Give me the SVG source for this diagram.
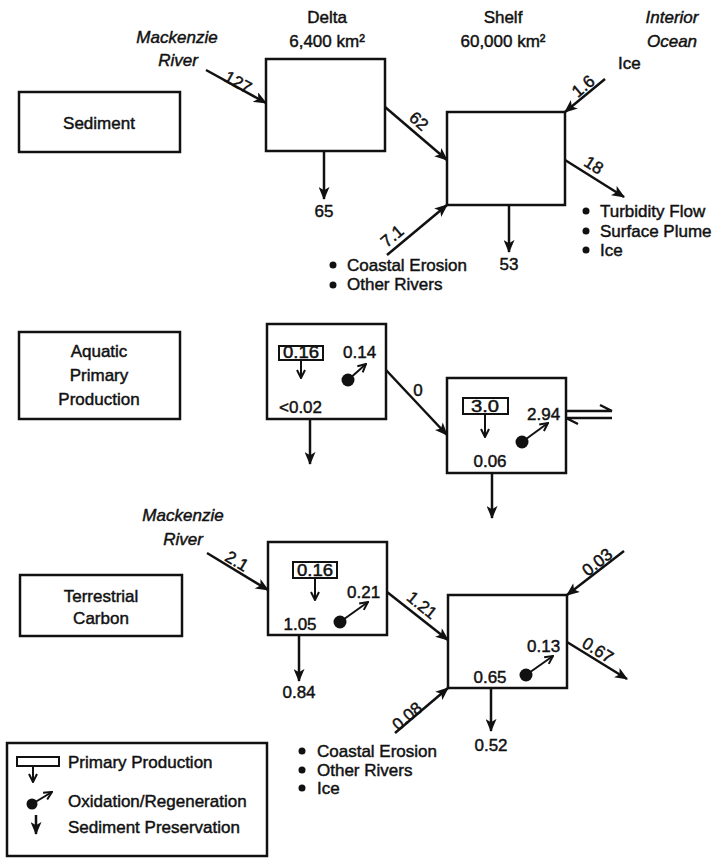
<svg xmlns="http://www.w3.org/2000/svg" width="719" height="859" viewBox="0 0 719 859">
<defs>
<style>
text{font-family:"Liberation Sans",Arial,sans-serif;font-size:17px;fill:#111;stroke:#111;stroke-width:0.45}
.it{font-style:italic}
.m{text-anchor:middle}
.sm{font-size:16px}
.box{fill:#fff;stroke:#111;stroke-width:2.5}
.pp{fill:#fff;stroke:#111;stroke-width:2}
.ln{fill:none;stroke:#111;stroke-width:2.5}
.thin{fill:none;stroke:#111;stroke-width:2}
.dot{fill:#111}
</style>
<marker id="ah" viewBox="0 0 12 10" refX="11" refY="5" markerWidth="14" markerHeight="11" markerUnits="userSpaceOnUse" orient="auto"><path d="M0,0 L12,5 L0,10 L3,5 z" fill="#111"/></marker>
<marker id="oh" viewBox="0 0 10 10" refX="9" refY="5" markerWidth="10" markerHeight="10" markerUnits="userSpaceOnUse" orient="auto"><path d="M1,1 L9,5 L1,9" fill="none" stroke="#111" stroke-width="2"/></marker>
</defs>
<rect width="719" height="859" fill="#fff"/>

<!-- headers -->
<g id="headers">
<text class="m" x="327" y="23">Delta</text>
<text class="m" x="327" y="47">6,400 km²</text>
<text class="m" x="503" y="23">Shelf</text>
<text class="m" x="503" y="47">60,000 km²</text>
<text class="m it" x="672" y="23">Interior</text>
<text class="m it" x="672" y="47">Ocean</text>
<text x="618" y="69">Ice</text>
<text class="m it" x="177" y="43">Mackenzie</text>
<text class="m it" x="178" y="66">River</text>
</g>

<!-- Row 1: Sediment -->
<g id="label-sediment"><rect class="box" x="19" y="92" width="161" height="60"/><text class="m" x="99" y="129">Sediment</text></g>
<g id="sed-delta"><rect class="box" x="266" y="59" width="119" height="92"/></g>
<g id="sed-shelf"><rect class="box" x="447" y="112" width="118" height="93"/></g>
<g id="sed-texts">
<text class="m" x="324" y="217">65</text>
<text class="m" x="509" y="270">53</text>
<circle class="dot" cx="586" cy="211" r="3.5"/><text x="600" y="217">Turbidity Flow</text>
<circle class="dot" cx="586" cy="231" r="3.5"/><text x="600" y="237">Surface Plume</text>
<circle class="dot" cx="586" cy="250" r="3.5"/><text x="600" y="256">Ice</text>
<circle class="dot" cx="333" cy="265" r="3.5"/><text x="347" y="271">Coastal Erosion</text>
<circle class="dot" cx="333" cy="285" r="3.5"/><text x="347" y="290">Other Rivers</text>
</g>

<!-- Row 2: Aquatic -->
<g id="label-aquatic"><rect class="box" x="19" y="332" width="161" height="87"/>
<text class="m" x="99" y="357">Aquatic</text><text class="m" x="99" y="381">Primary</text><text class="m" x="99" y="405">Production</text></g>
<g id="aq-delta"><rect class="box" x="267" y="324" width="119" height="95"/>
<rect class="pp" x="279" y="346" width="44" height="14"/><text class="m sm" x="301" y="358" textLength="36" lengthAdjust="spacingAndGlyphs">0.16</text>
<line class="thin" x1="301" y1="360" x2="301" y2="378" marker-end="url(#oh)"/>
<text x="343" y="358">0.14</text>
<circle class="dot" cx="348" cy="380" r="6.5"/><line class="thin" x1="348" y1="380" x2="366" y2="364" marker-end="url(#oh)"/>
<text x="279" y="413">&lt;0.02</text></g>
<g id="aq-shelf"><rect class="box" x="447" y="378" width="119" height="95"/>
<rect class="pp" x="463" y="398" width="45" height="16"/><text class="m sm" x="485" y="412" textLength="28" lengthAdjust="spacingAndGlyphs">3.0</text>
<line class="thin" x1="485" y1="414" x2="485" y2="437" marker-end="url(#oh)"/>
<text x="527" y="420">2.94</text>
<circle class="dot" cx="522" cy="442" r="6.5"/><line class="thin" x1="522" y1="442" x2="548" y2="423" marker-end="url(#oh)"/>
<text class="m" x="490" y="467">0.06</text></g>

<!-- Row 3: Terrestrial -->
<g id="label-terrestrial"><rect class="box" x="20" y="575" width="162" height="61"/>
<text class="m" x="101" y="602">Terrestrial</text><text class="m" x="101" y="624">Carbon</text></g>
<g id="terr-river"><text class="m it" x="183" y="521">Mackenzie</text><text class="m it" x="183" y="545">River</text></g>
<g id="terr-delta"><rect class="box" x="268" y="542" width="119" height="93"/>
<rect class="pp" x="293" y="562" width="44" height="16"/><text class="m sm" x="315" y="576" textLength="36" lengthAdjust="spacingAndGlyphs">0.16</text>
<line class="thin" x1="315" y1="578" x2="315" y2="600" marker-end="url(#oh)"/>
<text x="347" y="598">0.21</text>
<circle class="dot" cx="340" cy="622" r="6.5"/><line class="thin" x1="340" y1="622" x2="368" y2="602" marker-end="url(#oh)"/>
<text class="m" x="300" y="630">1.05</text></g>
<g id="terr-shelf"><rect class="box" x="448" y="595" width="119" height="93"/>
<text x="527" y="652">0.13</text>
<circle class="dot" cx="526" cy="675" r="6.5"/><line class="thin" x1="526" y1="675" x2="553" y2="656" marker-end="url(#oh)"/>
<text class="m" x="490" y="683">0.65</text></g>
<g id="terr-texts">
<text class="m" x="299" y="698">0.84</text>
<text class="m" x="491" y="751">0.52</text>
<circle class="dot" cx="302" cy="751" r="3.5"/><text x="317" y="757">Coastal Erosion</text>
<circle class="dot" cx="302" cy="770" r="3.5"/><text x="317" y="776">Other Rivers</text>
<circle class="dot" cx="302" cy="788" r="3.5"/><text x="317" y="794">Ice</text>
</g>

<!-- connectors -->
<g id="connectors">
<line class="ln" x1="206" y1="70" x2="266" y2="103" marker-end="url(#ah)"/>
<line class="ln" x1="385" y1="107" x2="447" y2="160" marker-end="url(#ah)"/>
<line class="ln" x1="605" y1="79" x2="565" y2="112" marker-end="url(#ah)"/>
<line class="ln" x1="565" y1="160" x2="624" y2="197" marker-end="url(#ah)"/>
<line class="ln" x1="387" y1="255" x2="447" y2="205" marker-end="url(#ah)"/>
<line class="ln" x1="324" y1="151" x2="324" y2="199" marker-end="url(#ah)"/>
<line class="ln" x1="509" y1="205" x2="509" y2="252" marker-end="url(#ah)"/>
<line class="ln" x1="386" y1="370" x2="447" y2="435" marker-end="url(#ah)"/>
<line class="ln" x1="310" y1="419" x2="310" y2="464" marker-end="url(#ah)"/>
<line class="ln" x1="492" y1="473" x2="492" y2="518" marker-end="url(#ah)"/>
<path class="ln" d="M566,411 H612 M612,411 L600,405 M566,418 H612 M566,418 L578,424"/>
<line class="ln" x1="207" y1="553" x2="268" y2="590" marker-end="url(#ah)"/>
<line class="ln" x1="387" y1="592" x2="448" y2="640" marker-end="url(#ah)"/>
<line class="ln" x1="624" y1="551" x2="567" y2="595" marker-end="url(#ah)"/>
<line class="ln" x1="567" y1="642" x2="627" y2="679" marker-end="url(#ah)"/>
<line class="ln" x1="395" y1="733" x2="448" y2="688" marker-end="url(#ah)"/>
<line class="ln" x1="299" y1="635" x2="299" y2="681" marker-end="url(#ah)"/>
<line class="ln" x1="491" y1="688" x2="491" y2="731" marker-end="url(#ah)"/>
<text class="m" transform="translate(238,82) rotate(29)" dy="0.35em">127</text>
<text class="m" transform="translate(419,121) rotate(41)" dy="0.35em">62</text>
<text class="m" transform="translate(583,86) rotate(-40)" dy="0.35em">1.6</text>
<text class="m" transform="translate(594,165) rotate(32)" dy="0.35em">18</text>
<text class="m" transform="translate(392,236) rotate(-40)" dy="0.35em">7.1</text>
<text class="m" x="418" y="396">0</text>
<text class="m" transform="translate(237,561) rotate(31)" dy="0.35em">2.1</text>
<text class="m" transform="translate(422,605) rotate(39)" dy="0.35em">1.21</text>
<text class="m" transform="translate(597,562) rotate(-38)" dy="0.35em">0.03</text>
<text class="m" transform="translate(598,650) rotate(32)" dy="0.35em">0.67</text>
<text class="m" transform="translate(407,716) rotate(-40)" dy="0.35em">0.08</text>
</g>

<!-- legend -->
<g id="legend">
<rect class="box" x="7" y="743" width="260" height="113"/>
<rect class="pp" x="17" y="757" width="42" height="9"/>
<line class="thin" x1="33" y1="766" x2="33" y2="782" marker-end="url(#oh)"/>
<text x="68" y="768">Primary Production</text>
<circle class="dot" cx="32" cy="804" r="5.5"/><line class="thin" x1="32" y1="804" x2="52" y2="792" marker-end="url(#oh)"/>
<text x="68" y="807">Oxidation/Regeneration</text>
<line class="ln" x1="36" y1="815" x2="36" y2="834" marker-end="url(#ah)"/>
<text x="68" y="833">Sediment Preservation</text>
</g>
</svg>
